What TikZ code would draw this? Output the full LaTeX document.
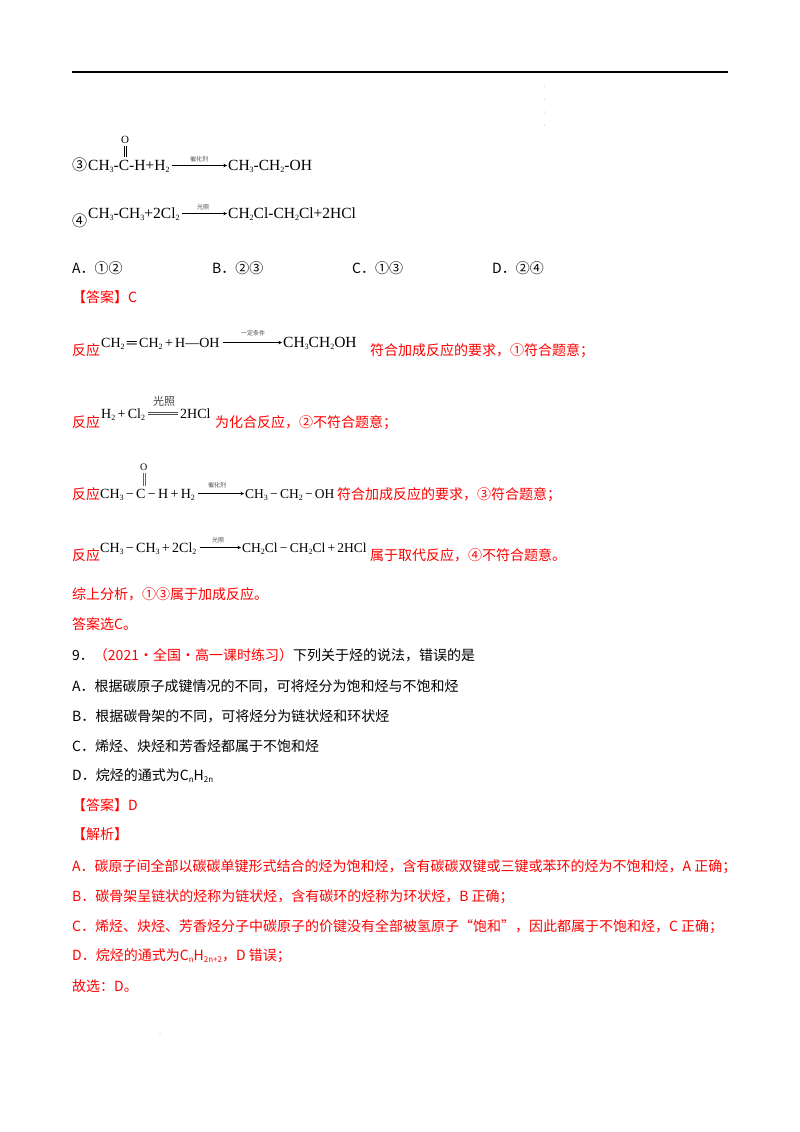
\documentclass[tikz,border=0pt]{standalone}
\usepackage{fontspec}
\setmainfont{Noto Sans CJK SC}
\newfontfamily\tms{Liberation Serif}
\newcommand\dn[1]{\raisebox{-2.5pt}{\fontsize{8}{8}\selectfont #1}}
\newcommand\sdn[1]{\raisebox{-2pt}{\fontsize{8}{8}\selectfont #1}}
\definecolor{ans}{HTML}{FF0000}
\tikzset{t/.style={anchor=base west,inner sep=0pt,font=\fontsize{14}{14}\selectfont},
 r/.style={t,text=ans},
 f/.style={anchor=base west,inner sep=0pt,font=\tms\fontsize{14}{14}\selectfont},
 fs/.style={f,font=\tms\fontsize{13.5}{13.5}\selectfont},
 fb/.style={f,font=\tms\fontsize{15.5}{15.5}\selectfont},
 lab/.style={inner sep=0pt,font=\fontsize{6}{6}\selectfont,text=black!70},
 ar/.style={->,>=stealth,line width=0.6pt}}
\begin{document}
\begin{tikzpicture}[x=1pt,y=-1pt]
\useasboundingbox (0,0) rectangle (800,1132);
\draw[line width=1.6pt] (72,72) -- (728,72);
\foreach \yy in {86,99,112,125} \fill[black!50] (544,\yy) circle (0.5);
\fill[black!40] (160,1033) circle (0.5);
% line 3 (question)
\node[t,font=\fontsize{15}{15}\selectfont] (c3) at (72,170) {③};
\node[fb] (q3l) at (88,170) {CH\dn{3}-C-H+H\dn{2}};
\node[f,font=\tms\fontsize{11}{11}\selectfont] (q3o) at (121,143) {O};
\draw[line width=0.4pt] (124,146)--(124,157) (126,146)--(126,157);
\node[fb] (q3r) at (228,170) {CH\dn{3}-CH\dn{2}-OH};
\draw[ar] ([xshift=2pt,yshift=4.5pt]q3l.base east) -- ([xshift=-1pt,yshift=4.5pt]q3r.base west);
\node[lab] at (199,159) {催化剂};
% line 4
\node[t,font=\fontsize{15}{15}\selectfont] (c4) at (72,226) {④};
\node[fb] (q4l) at (88,218) {CH\dn{3}-CH\dn{3}+2Cl\dn{2}};
\node[fb] (q4r) at (228,218) {CH\dn{2}Cl-CH\dn{2}Cl+2HCl};
\draw[ar] ([xshift=2pt,yshift=4.5pt]q4l.base east) -- ([xshift=-1pt,yshift=4.5pt]q4r.base west);
\node[lab] at (203,207) {光照};
% options
\node[t] (oa) at (72,273) {A．①②};
\node[t] (ob) at (212,273) {B．②③};
\node[t] (oc) at (352,273) {C．①③};
\node[t] (od) at (492,273) {D．②④};
\node[r] (da) at (72,302) {【答案】C};
% answer line 1
\node[r] (f1) at (72,355) {反应};
\node[f] (a1l) at (101,347) {CH\dn{2}\,═\,CH\dn{2}\,+\,H—OH};
\node[fb] (a1r) at (283,347) {CH\dn{3}CH\dn{2}OH};
\draw[ar] ([xshift=3pt,yshift=4.5pt]a1l.base east) -- ([xshift=-1pt,yshift=4.5pt]a1r.base west);
\node[lab] at (253,333) {一定条件};
\node[r] (e1) at (370,355) {符合加成反应的要求，①符合题意；};
% line 2
\node[r] (f2) at (72,427) {反应};
\node[f] (a2l) at (101,418) {H\dn{2}\,+\,Cl\dn{2}};
\node[f] (a2r) at (180,418) {2HCl};
\draw[line width=0.6pt,black!70] ([xshift=3pt,yshift=6pt]a2l.base east) -- ([xshift=-2pt,yshift=6pt]a2r.base west);
\draw[line width=0.6pt,black!70] ([xshift=3pt,yshift=3.5pt]a2l.base east) -- ([xshift=-2pt,yshift=3.5pt]a2r.base west);
\node[inner sep=0pt,font=\fontsize{11}{11}\selectfont,text=black!75] at (164,401) {光照};
\node[r] (e2) at (215,427) {为化合反应，②不符合题意；};
% line 3
\node[r] (f3) at (72,499) {反应};
\node[f] (a3l) at (100,498) {CH\dn{3}\,−\,C\,−\,H\,+\,H\dn{2}};
\node[f,font=\tms\fontsize{10}{10}\selectfont] at (140,470) {O};
\draw[line width=0.4pt,black!60] (143,473)--(143,486) (145,473)--(145,486);
\node[fs] (a3r) at (245,498) {CH\dn{3}\,−\,CH\dn{2}\,−\,OH};
\draw[ar] ([xshift=3pt,yshift=4.5pt]a3l.base east) -- ([xshift=-1pt,yshift=4.5pt]a3r.base west);
\node[lab] at (217,485) {催化剂};
\node[r] (e3) at (337,499) {符合加成反应的要求，③符合题意；};
% line 4
\node[r] (f4) at (72,560) {反应};
\node[f] (a4l) at (100,552) {CH\dn{3}\,−\,CH\dn{3}\,+\,2Cl\dn{2}};
\node[fs] (a4r) at (242,552) {CH\dn{2}Cl\,−\,CH\dn{2}Cl\,+\,2HCl};
\draw[ar] ([xshift=3pt,yshift=4.5pt]a4l.base east) -- ([xshift=-1pt,yshift=4.5pt]a4r.base west);
\node[lab] at (218,540) {光照};
\node[r] (e4) at (370,560) {属于取代反应，④不符合题意。};
\node[r] (s1) at (72,599) {综上分析，①③属于加成反应。};
\node[r] (s2) at (72,629) {答案选C。};
% question 9
\node[t] (q9) at (72,660) {9．\textcolor{ans}{（2021·全国·高一课时练习）}下列关于烃的说法，错误的是};
\node[t] (qa) at (72,691) {A．根据碳原子成键情况的不同，可将烃分为饱和烃与不饱和烃};
\node[t] (qb) at (72,721) {B．根据碳骨架的不同，可将烃分为链状烃和环状烃};
\node[t] (qc) at (72,751) {C．烯烃、炔烃和芳香烃都属于不饱和烃};
\node[t] (qd) at (72,780) {D．烷烃的通式为C\sdn{n}H\sdn{2n}};
\node[r] (ad) at (72,810) {【答案】D};
\node[r] (jx) at (72,839) {【解析】};
\node[r] (ja) at (72,871) {A．碳原子间全部以碳碳单键形式结合的烃为饱和烃，含有碳碳双键或三键或苯环的烃为不饱和烃，A 正确；};
\node[r] (jb) at (72,901) {B．碳骨架呈链状的烃称为链状烃，含有碳环的烃称为环状烃，B 正确；};
\node[r] (jc) at (72,931) {C．烯烃、炔烃、芳香烃分子中碳原子的价键没有全部被氢原子“饱和”，因此都属于不饱和烃，C 正确；};
\node[r] (jd) at (72,960) {D．烷烃的通式为C\sdn{n}H\sdn{2n+2}，D 错误；};
\node[r] (jg) at (72,991) {故选：D。};
\end{tikzpicture}
\end{document}
